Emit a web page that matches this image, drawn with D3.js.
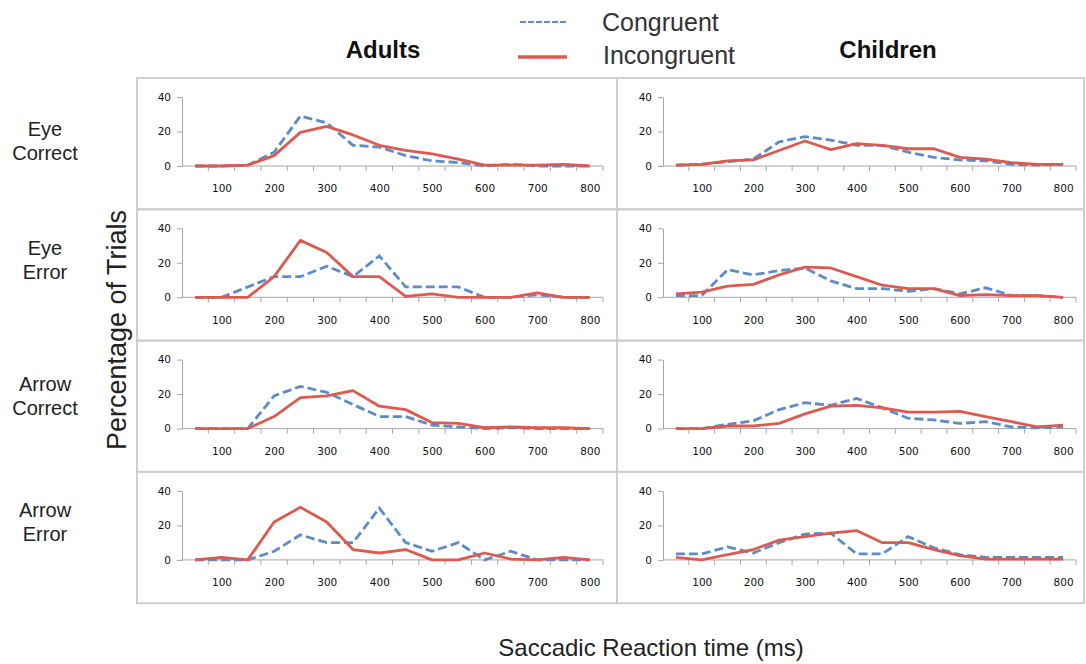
<!DOCTYPE html>
<html>
<head>
    <meta charset="utf-8">
    <title>Saccadic Reaction Time</title>
    <style type="text/css">
    body { margin: 0; background: #fff; }
    svg { display: block; }
    </style>
</head>
<body>
  <script src="https://cdnjs.cloudflare.com/ajax/libs/d3/7.8.5/d3.min.js"></script>
  <script>

    //x categories (reaction time bins, ms) and tick labels
    var rtBins   = [50, 100, 150, 200, 250, 300, 350, 400, 450, 500, 550, 600, 650, 700, 750, 800];
    var rtLabels = [100, 200, 300, 400, 500, 600, 700, 800];
    var pctTicks = [0, 20, 40];

    var groups     = ["Adults", "Children"];
    var conditions = [["Eye", "Correct"], ["Eye", "Error"], ["Arrow", "Correct"], ["Arrow", "Error"]];
    var seriesNames = ["Congruent", "Incongruent"];

    //percentage of trials per bin
    var adultsEyeCorrectCongruent       = [0, 0, 0.5, 8, 29, 25, 12, 11, 6, 3, 2, 0, 1, 0, 0, 0];
    var adultsEyeCorrectIncongruent     = [0, 0, 0.5, 6, 19.5, 23, 18, 12, 9, 7, 4, 0.5, 0.5, 0.5, 1, 0];
    var childrenEyeCorrectCongruent     = [0.5, 1, 2.5, 4, 14, 17, 15, 12, 12, 8, 5, 3.5, 3, 1, 0.5, 1];
    var childrenEyeCorrectIncongruent   = [0.5, 1, 3, 3.5, 9, 14.5, 9.5, 13, 12, 10, 10, 5, 4, 2, 1, 1];
    var adultsEyeErrorCongruent         = [0, 0, 6, 12, 12, 18, 12, 24, 6, 6, 6, 0, 0, 1.5, 0, 0];
    var adultsEyeErrorIncongruent       = [0, 0, 0, 12, 33, 26, 12, 12, 0.5, 2, 0, 0, 0, 2.5, 0, 0];
    var childrenEyeErrorCongruent       = [1, 1, 16, 13, 15.5, 17, 9.5, 5, 5, 3.5, 5, 2, 5.5, 1, 1, 0];
    var childrenEyeErrorIncongruent     = [2, 3, 6.5, 7.5, 13, 17.5, 17, 12, 7, 5, 5, 1, 1.5, 1, 1, 0];
    var adultsArrowCorrectCongruent     = [0, 0, 0, 19, 24.5, 21, 14, 7, 7, 2, 1, 0, 0.5, 0, 0, 0];
    var adultsArrowCorrectIncongruent   = [0, 0, 0, 7, 18, 19, 22, 13, 11, 3.5, 3, 0.5, 1, 0.5, 0.5, 0];
    var childrenArrowCorrectCongruent   = [0, 0, 2.5, 4.5, 11, 15, 13.5, 17.5, 12, 6, 5, 3, 4, 1, 0.5, 1];
    var childrenArrowCorrectIncongruent = [0, 0, 1.5, 1.5, 3, 8.5, 13, 13.5, 12, 9.5, 9.5, 10, 7, 4, 1, 2];
    var adultsArrowErrorCongruent       = [0, 0, 0, 5, 14.5, 10, 10, 30, 10, 5, 10, 0, 5, 0, 0, 0];
    var adultsArrowErrorIncongruent     = [0, 1.5, 0, 22, 30.5, 22, 6, 4, 6, 0, 0, 4, 0.5, 0, 1.5, 0];
    var childrenArrowErrorCongruent     = [3.5, 3.5, 7.5, 4, 10, 15, 15.5, 3.5, 3.5, 13.5, 7, 3, 1.5, 1.5, 1.5, 1.5];
    var childrenArrowErrorIncongruent   = [1.5, 0, 3, 6, 11.5, 13.5, 15.5, 17, 10, 10, 6, 2.5, 0.5, 0.5, 0.5, 0.5];

    //panel table [row][col] -> [congruent, incongruent]
    var panels = [
      [[adultsEyeCorrectCongruent, adultsEyeCorrectIncongruent], [childrenEyeCorrectCongruent, childrenEyeCorrectIncongruent]],
      [[adultsEyeErrorCongruent, adultsEyeErrorIncongruent], [childrenEyeErrorCongruent, childrenEyeErrorIncongruent]],
      [[adultsArrowCorrectCongruent, adultsArrowCorrectIncongruent], [childrenArrowCorrectCongruent, childrenArrowCorrectIncongruent]],
      [[adultsArrowErrorCongruent, adultsArrowErrorIncongruent], [childrenArrowErrorCongruent, childrenArrowErrorIncongruent]]
    ];

    var W = 1086, H = 664;
    var colors = { Congruent: "#5b8cc9", Incongruent: "#dc5a50" };

    //layout of the two columns of panels
    var cols = [
      { left: 137, right: 617, ax0: 182, ax1: 603, title: 383 },
      { left: 617, right: 1084, ax0: 663, ax1: 1076, title: 888 }
    ];
    var rowTop = 78, rowH = 131.3;
    var labelY = [141, 260, 396, 522];

    var svg = d3.select("body")
      .append("svg")
      .attr("width", W)
      .attr("height", H)
      .style("font-family", "'Liberation Sans', Arial, sans-serif");

    svg.append("rect").attr("width", W).attr("height", H).attr("fill", "#fff");

    var y = d3.scaleLinear().domain([0, 40]);

    panels.forEach(function(row, r){
      var top = rowTop + r * rowH;
      y.range([top + 88, top + 19]);

      row.forEach(function(pair, c){
        var col = cols[c];
        var x = d3.scalePoint()
          .domain(rtBins)
          .range([col.ax0, col.ax1])
          .padding(0.5);
        var step = x.step();

        var g = svg.append("g");

        //panel frame
        g.append("rect")
          .attr("x", col.left)
          .attr("y", top)
          .attr("width", col.right - col.left)
          .attr("height", rowH)
          .attr("fill", "none")
          .attr("stroke", "#cfcfcf")
          .attr("stroke-width", 2);

        //y axis
        var yAxis = g.append("g")
          .attr("transform", "translate(" + col.ax0 + ",0)")
          .call(d3.axisLeft(y).tickValues(pctTicks).tickSize(5).tickSizeOuter(0).tickPadding(6));
        yAxis.selectAll("path, line").attr("stroke", "#a6a6a6");
        yAxis.selectAll("text")
          .style("font-family", "'DejaVu Sans', sans-serif")
          .style("font-size", "10.5px")
          .attr("fill", "#111");

        //x axis with labels every 100 ms
        var xAxis = g.append("g")
          .attr("transform", "translate(0," + y(0) + ")")
          .call(d3.axisBottom(x).tickValues(rtLabels).tickSize(0).tickSizeOuter(0).tickPadding(19));
        xAxis.select(".domain")
          .attr("d", "M" + col.ax0 + ",0H" + col.ax1)
          .attr("stroke", "#a6a6a6");
        xAxis.selectAll("text")
          .style("font-family", "'DejaVu Sans', sans-serif")
          .style("font-size", "10.5px")
          .attr("fill", "#111");

        //tick marks between categories
        g.selectAll("line.xtick")
          .data(rtBins)
          .enter()
          .append("line")
          .attr("x1", function(d){ return x(d) + step / 2; })
          .attr("x2", function(d){ return x(d) + step / 2; })
          .attr("y1", y(0))
          .attr("y2", y(0) + 5)
          .attr("stroke", "#a6a6a6");

        //lines
        var line = d3.line()
          .x(function(d, i){ return x(rtBins[i]); })
          .y(function(d){ return y(d); });

        g.append("path")
          .datum(pair[0])
          .attr("d", line)
          .attr("fill", "none")
          .attr("stroke", colors.Congruent)
          .attr("stroke-width", 2.8)
          .attr("stroke-dasharray", "9,4");

        g.append("path")
          .datum(pair[1])
          .attr("d", line)
          .attr("fill", "none")
          .attr("stroke", colors.Incongruent)
          .attr("stroke-width", 2.8)
          .attr("stroke-linejoin", "round");
      });

      //row label
      var lab = svg.append("text")
        .attr("x", 45)
        .attr("y", labelY[r])
        .attr("text-anchor", "middle")
        .style("font-size", "20px")
        .attr("fill", "#222");
      lab.selectAll("tspan")
        .data(conditions[r])
        .enter()
        .append("tspan")
        .attr("x", 45)
        .attr("dy", function(d, i){ return i == 0 ? -5 : 24; })
        .text(function(d){ return d; });
    });

    //column titles
    svg.selectAll("text.group")
      .data(groups)
      .enter()
      .append("text")
      .attr("class", "group")
      .attr("x", function(d, i){ return cols[i].title; })
      .attr("y", 58)
      .attr("text-anchor", "middle")
      .style("font-size", "24px")
      .style("font-weight", "bold")
      .attr("fill", "#111")
      .text(function(d){ return d; });

    //legend
    var legend = svg.append("g");
    legend.append("line")
      .attr("x1", 520).attr("x2", 567).attr("y1", 22).attr("y2", 22)
      .attr("stroke", colors.Congruent)
      .attr("stroke-width", 2)
      .attr("stroke-dasharray", "6,2");
    legend.append("line")
      .attr("x1", 518).attr("x2", 567).attr("y1", 57).attr("y2", 57)
      .attr("stroke", colors.Incongruent)
      .attr("stroke-width", 3.5);
    legend.selectAll("text")
      .data(seriesNames)
      .enter()
      .append("text")
      .attr("x", function(d, i){ return 602 + i; })
      .attr("y", function(d, i){ return 31 + i * 33; })
      .style("font-size", "25px")
      .attr("fill", "#333")
      .text(function(d){ return d; });

    //axis titles
    svg.append("text")
      .attr("transform", "translate(126,330) rotate(-90)")
      .attr("text-anchor", "middle")
      .style("font-size", "27px")
      .attr("fill", "#222")
      .text("Percentage of Trials");

    svg.append("text")
      .attr("x", 651)
      .attr("y", 656)
      .attr("text-anchor", "middle")
      .style("font-size", "24px")
      .attr("fill", "#222")
      .text("Saccadic Reaction time (ms)");

  </script>
</body>
</html>
